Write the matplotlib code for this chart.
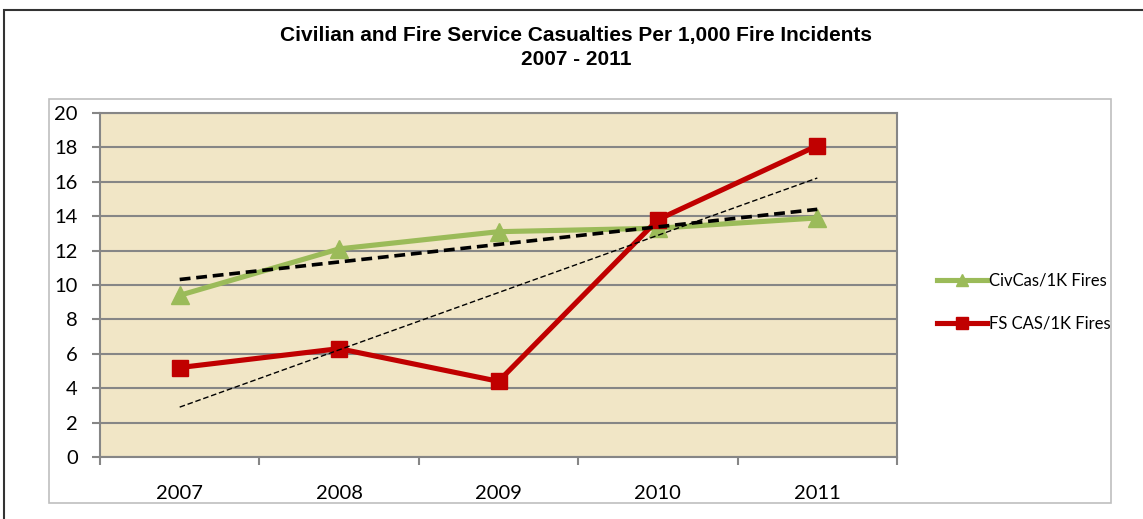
"""Civilian and fire service casualties per 1,000 fire incidents, 2007-2011."""

import numpy as np
import matplotlib.pyplot as plt
from matplotlib.patches import Rectangle

years = ['2007', '2008', '2009', '2010', '2011']
civ_cas = [9.4, 12.1, 13.1, 13.3, 13.9]
fs_cas = [5.2, 6.3, 4.4, 13.8, 18.1]

GREEN = '#9BBB59'
RED = '#C00000'
GRID = '#868686'
FILL = '#F1E6C6'

W, H = 1143, 519
fig = plt.figure(figsize=(W / 100, H / 100), dpi=100)

# outer chart border (dark) and plot-area border (light)
fig.add_artist(Rectangle((4 / W, -0.05), 1.1, 1 - 10 / H + 0.05, transform=fig.transFigure,
                         fill=False, edgecolor='#333333', linewidth=1.5))
fig.add_artist(Rectangle((49 / W, 1 - 503 / H), (1111 - 49) / W, (503 - 99) / H,
                         transform=fig.transFigure, fill=False, edgecolor='#BFBFBF', linewidth=1.2))

ax = fig.add_axes([100 / W, 1 - 457 / H, (897 - 100) / W, (457 - 113) / H])
ax.set_facecolor(FILL)

x = np.arange(len(years))
ax.plot(x, civ_cas, color=GREEN, lw=3.7, marker='^', ms=13, label='CivCas/1K Fires', zorder=3)
ax.plot(x, fs_cas, color=RED, lw=3.7, marker='s', ms=12, label='FS CAS/1K Fires', zorder=3)

# linear trend lines
civ_fit = np.polyfit(x, civ_cas, 1)
fs_fit = np.polyfit(x, fs_cas, 1)
ax.plot(x, np.polyval(civ_fit, x), color='black', lw=2.6, ls=(0, (3, 1.6)), zorder=4)
ax.plot(x, np.polyval(fs_fit, x), color='black', lw=1.0, ls=(0, (4, 2)), zorder=4)

ax.set_xlim(-0.5, 4.5)
ax.set_ylim(0, 20)
ax.set_yticks(range(0, 21, 2))
ax.yaxis.grid(True, color=GRID, lw=1.5)
ax.set_axisbelow(True)
ax.set_xticks(x)
ax.set_xticklabels(years)
ax.set_xticks(np.arange(-0.5, 5, 1), minor=True)
ax.tick_params(axis='x', which='major', length=0, pad=20, labelsize=14.5)
ax.tick_params(axis='x', which='minor', length=6, width=1.5, color=GRID)
ax.tick_params(axis='y', length=6, width=1.5, color=GRID, labelsize=14.5, pad=10)
for s in ax.spines.values():
    s.set_color(GRID)
    s.set_linewidth(1.5)
for t in ax.get_xticklabels() + ax.get_yticklabels():
    t.set_fontfamily('Lato')

fig.text(576 / W, 1 - 35 / H, 'Civilian and Fire Service Casualties Per 1,000 Fire Incidents',
         ha='center', va='center', fontsize=15, fontweight='bold', family='Liberation Sans')
fig.text(576 / W, 1 - 60 / H, '2007 - 2011',
         ha='center', va='center', fontsize=15, fontweight='bold', family='Liberation Sans')

leg = fig.legend(loc='center left', bbox_to_anchor=(922 / W, 1 - 302 / H), frameon=False,
                 prop={'family': 'Lato', 'size': 12}, handlelength=3.0, handletextpad=0.1,
                 labelspacing=1.6, markerscale=0.7)

fig.savefig('out.png', dpi=100)
